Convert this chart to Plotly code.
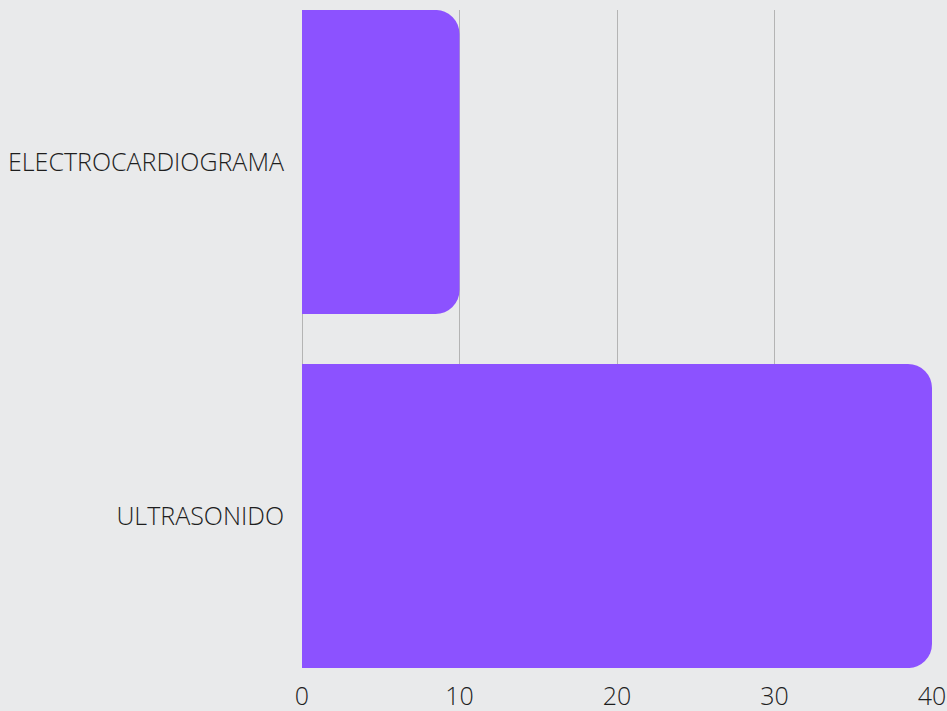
import plotly.graph_objects as go

categories = ["ELECTROCARDIOGRAMA", "ULTRASONIDO"]
values = [10, 40]
tick_vals = [0, 10, 20, 30, 40]

fig = go.Figure(go.Bar(
    x=values, y=categories, orientation="h",
    marker=dict(color="#8c52ff", cornerradius=24, line=dict(width=0)),
    hoverinfo="x+y",
))

font = dict(family="Open Sans", size=25, color="#1e1e1e", weight=300)

fig.update_layout(
    width=947, height=711,
    margin=dict(l=302, r=15, t=10, b=43),
    paper_bgcolor="#e9eaeb", plot_bgcolor="#e9eaeb",
    bargap=0.141,
    showlegend=False,
    font=font,
)
fig.update_xaxes(
    range=[0, 40], tickvals=tick_vals, showgrid=True, gridcolor="#b4b4b4", gridwidth=1,
    zeroline=True, zerolinecolor="#b4b4b4", zerolinewidth=1,
    showline=False, ticks="", ticklabelstandoff=11, tickfont=font, automargin=False,
)
fig.update_yaxes(
    range=[1.4294, -0.4294], showgrid=False, zeroline=False, showline=False,
    ticks="", ticklabelstandoff=17, tickfont=font, automargin=False,
)

fig.write_html("out.html", config={"displayModeBar": False})
with open("out.html", "r", encoding="utf-8") as f:
    html = f.read()
html = html.replace("<head>", "<head><style>html,body{margin:0;padding:0;overflow:hidden;background:#e9eaeb;}</style>", 1)
with open("out.html", "w", encoding="utf-8") as f:
    f.write(html)
